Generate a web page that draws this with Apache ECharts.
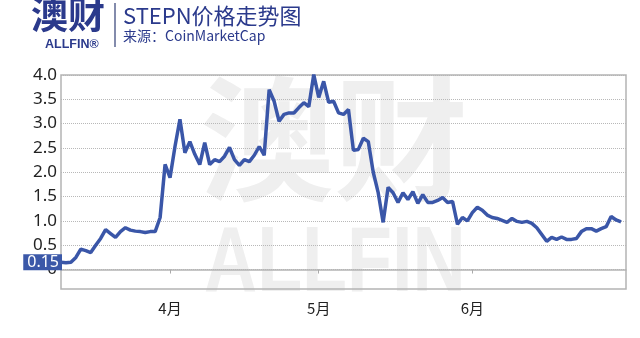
<!DOCTYPE html>
<html>
<head>
<meta charset="utf-8">
<script src="https://cdn.jsdelivr.net/npm/echarts@6/dist/echarts.min.js"></script>
<style>
  html, body { margin: 0; padding: 0; background: #fff; }
  #chart { width: 640px; height: 338px; }
</style>
</head>
<body>
<div id="chart"></div>
<script>
// 日期：3月10日 到 7月2日，按天
var startDay = [2022, 2, 10];
var dayCount = 115;
var monthLabels = ['4/1', '5/1', '6/1'];
var yTicks = [0, 0.5, 1.0, 1.5, 2.0, 2.5, 3.0, 3.5, 4.0];
var startPrice = 0.15;

// STEPN 价格 (美元)，每日一个点
var prices = [
  0.15, 0.14, 0.15, 0.25, 0.42, 0.39, 0.35, 0.50, 0.64, 0.82,
  0.74, 0.66, 0.78, 0.86, 0.81, 0.79, 0.78, 0.76, 0.78, 0.78,
  1.07, 2.16, 1.89, 2.53, 3.09, 2.40, 2.63, 2.37, 2.16, 2.61,
  2.16, 2.26, 2.22, 2.33, 2.51, 2.26, 2.14, 2.26, 2.22, 2.35,
  2.53, 2.35, 3.70, 3.46, 3.05, 3.19, 3.22, 3.22, 3.33, 3.43,
  3.35, 4.01, 3.54, 3.87, 3.44, 3.46, 3.22, 3.19, 3.29, 2.45,
  2.47, 2.70, 2.63, 2.00, 1.58, 0.97, 1.69, 1.58, 1.38, 1.58,
  1.44, 1.60, 1.36, 1.54, 1.38, 1.38, 1.42, 1.48, 1.38, 1.40,
  0.93, 1.07, 1.00, 1.17, 1.28, 1.22, 1.12, 1.07, 1.05, 1.01,
  0.97, 1.05, 0.99, 0.97, 0.99, 0.95, 0.86, 0.72, 0.58, 0.66,
  0.62, 0.67, 0.62, 0.62, 0.64, 0.78, 0.84, 0.84, 0.79, 0.84,
  0.88, 1.09, 1.02, 0.98, '-'
];

var dates = [];
for (var i = 0; i < dayCount; i++) {
  var d = new Date(Date.UTC(startDay[0], startDay[1], startDay[2] + i));
  dates.push((d.getUTCMonth() + 1) + '/' + d.getUTCDate());
}
function isMonthTick(idx) {
  return monthLabels.indexOf(dates[idx]) >= 0;
}

var navy = '#2b3a8c';
var chart = echarts.init(document.getElementById('chart'));
var option = {
  backgroundColor: '#fff',
  animation: false,
  title: {
    text: 'STEPN价格走势图',
    subtext: '来源：CoinMarketCap',
    left: 118,
    top: 0,
    itemGap: 2,
    textStyle: { color: navy, fontSize: 22, fontWeight: 'normal', fontFamily: 'Noto Sans CJK SC' },
    subtextStyle: { color: navy, fontSize: 14, fontFamily: 'Noto Sans CJK SC' }
  },
  graphic: [
    { type: 'text', left: 31, top: -4, style: { text: '澳财', fill: navy, font: 'bold 37px "Noto Sans CJK SC"' } },
    { type: 'text', left: 45, top: 38, style: { text: 'ALLFIN®', fill: navy, font: 'bold 12.5px "Liberation Sans"' } },
    { type: 'line', shape: { x1: 115, y1: 3, x2: 115, y2: 47 }, style: { stroke: '#5a6490', lineWidth: 1.5 } },
    // 水印
    { type: 'text', left: 200, top: 72, z: -10, style: { text: '澳财', fill: '#efefef', font: 'bold 134px "Noto Sans CJK SC"' } },
    { type: 'text', left: 204, top: 220, z: -10, scaleX: 0.8, style: { text: 'ALLFIN', fill: '#efefef', font: 'bold 92px "Liberation Sans"' } }
  ],
  grid: {
    left: 61, right: 14, top: 75, bottom: 49,
    show: true,
    borderColor: '#b4b4b4',
    borderWidth: 1.5,
    z: 1
  },
  xAxis: {
    type: 'category',
    data: dates,
    boundaryGap: false,
    axisLine: { lineStyle: { color: '#b4b4b4', width: 1.5 } },
    axisTick: { interval: isMonthTick, length: 4, lineStyle: { color: '#aaaaaa' } },
    axisLabel: {
      interval: isMonthTick,
      margin: 12,
      color: '#222',
      fontSize: 15,
      fontFamily: 'Noto Sans CJK SC',
      formatter: function (v) { return v.split('/')[0] + '月'; }
    },
    splitLine: { show: false }
  },
  yAxis: {
    type: 'value',
    min: -0.4,
    max: 4.0,
    axisLine: { show: false },
    axisTick: { show: false, customValues: yTicks },
    axisLabel: {
      customValues: yTicks,
      margin: 4,
      color: '#222',
      fontSize: 17,
      fontFamily: 'Noto Sans',
      formatter: function (v) { return v === 0 ? '0' : v.toFixed(1); }
    },
    splitLine: { show: true, lineStyle: { type: 'dotted', color: '#b8b8b8', width: 1 } }
  },
  series: [{
    type: 'line',
    data: prices,
    symbol: 'none',
    lineStyle: { color: '#3a56a8', width: 3.5 },
    z: 3,
    markLine: {
      silent: true,
      symbol: 'none',
      lineStyle: { color: 'rgba(0,0,0,0)', width: 0 },
      label: {
        show: true,
        position: 'start',
        distance: -1,
        formatter: String(startPrice),
        backgroundColor: '#3b58a8',
        color: '#fff',
        fontSize: 16,
        fontFamily: 'Noto Sans',
        padding: [0, 3, 0, 4]
      },
      data: [{ yAxis: startPrice }]
    }
  }]
};
chart.setOption(option);
</script>
</body>
</html>
